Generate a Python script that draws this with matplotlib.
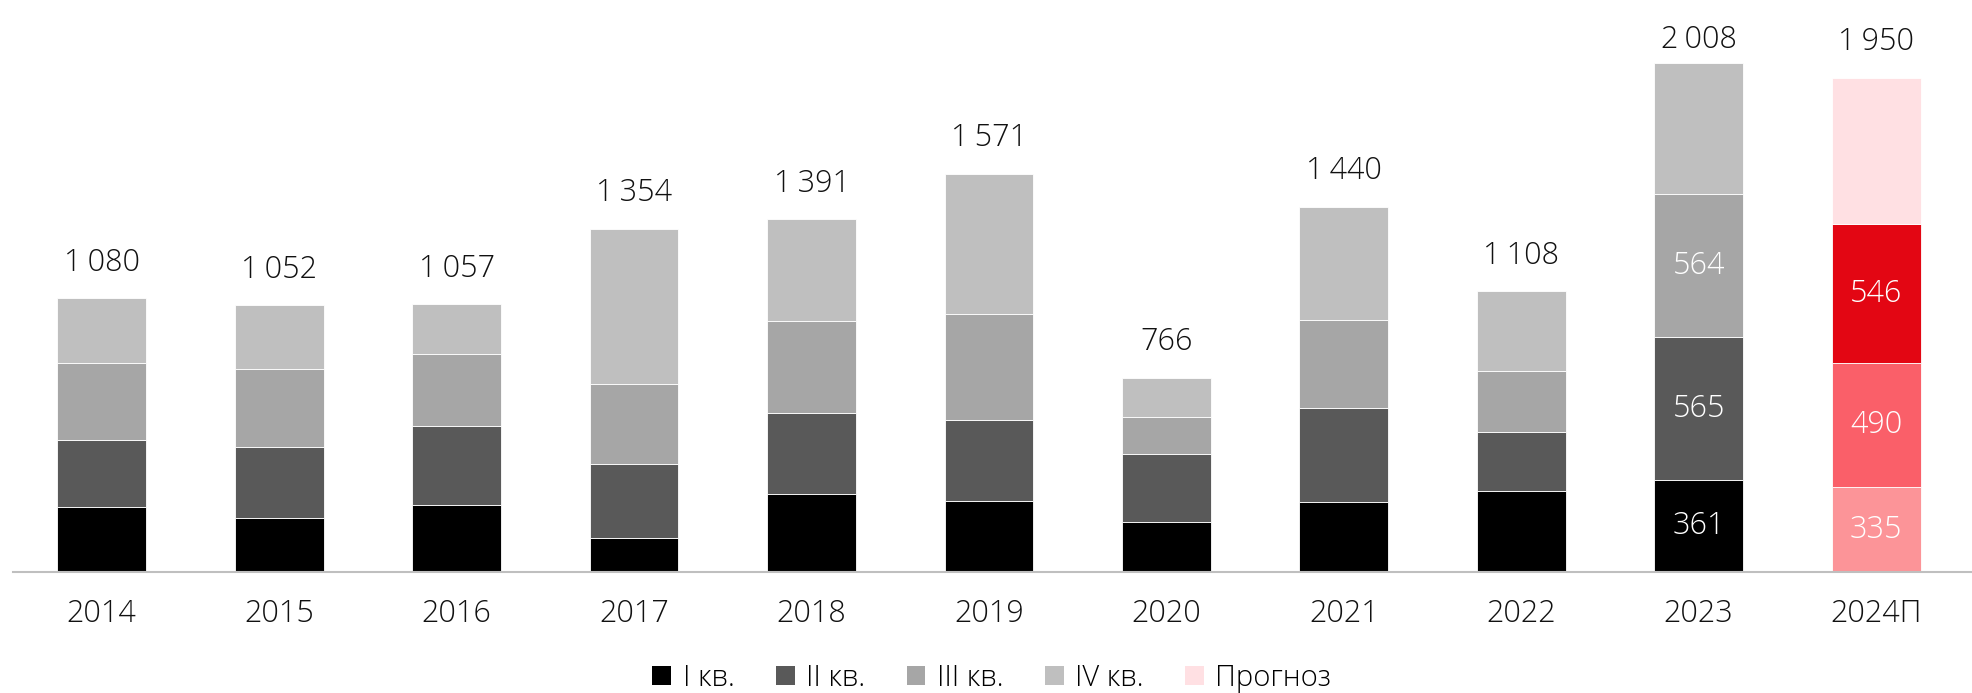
import matplotlib
matplotlib.use("Agg")
import matplotlib.pyplot as plt
from matplotlib.patches import Patch

plt.rcParams['font.family'] = ['Open Sans', 'DejaVu Sans']
plt.rcParams['font.weight'] = 'light'

years = ["2014", "2015", "2016", "2017", "2018", "2019", "2020", "2021", "2022", "2023", "2024П"]
q1 = [256, 214, 265, 133, 308, 281, 199, 277, 320, 361, 335]
q2 = [264, 279, 312, 294, 320, 320, 267, 370, 232, 565, 490]
q3 = [306, 306, 281, 313, 360, 416, 147, 345, 240, 564, 546]
q4 = [254, 253, 199, 614, 403, 554, 153, 448, 316, 518, 579]
totals = [1080, 1052, 1057, 1354, 1391, 1571, 766, 1440, 1108, 2008, 1950]
labelled_inside = [False] * 9 + [True, True]  # segment labels shown for 2023 and 2024П

grey_colors = ["#000000", "#595959", "#A6A6A6", "#BFBFBF"]
red_colors = ["#FC9498", "#FA5F69", "#E30613", "#FFE0E3"]
legend_labels = ["I кв.", "II кв.", "III кв.", "IV кв.", "Прогноз"]

W, H = 1972, 693
fig = plt.figure(figsize=(W / 100, H / 100), dpi=100)
base_px = 572
ax = fig.add_axes([13 / W, (H - base_px) / H, 1 - 13 / W, base_px / H])

x = list(range(len(years)))
series = [q1, q2, q3, q4]
bottoms = [0] * len(years)
for si, vals in enumerate(series):
    cols = [red_colors[si] if yr.endswith("П") else grey_colors[si] for yr in years]
    ax.bar(x, vals, width=0.5, bottom=bottoms, color=cols,
           edgecolor="white", linewidth=0.6)
    for i, (b, v) in enumerate(zip(bottoms, vals)):
        if labelled_inside[i] and si < 3:
            ax.text(i, b + v / 2, str(v), ha="center", va="center",
                    color="white", fontsize=22)
    bottoms = [b + v for b, v in zip(bottoms, vals)]

def fmt(v):
    return f"{v:,}".replace(",", "\u2009")

label_cap = 1960  # labels kept below the top edge of the picture
for i, t in enumerate(totals):
    ax.annotate(fmt(t), (i, min(bottoms[i], label_cap)), xytext=(0, 14),
                textcoords="offset points", ha="center", va="bottom",
                fontsize=22, color="#111111")

ax.set_xlim(-0.5, 10.54)
ax.set_ylim(0, 2256)
ax.set_xticks(x)
ax.set_xticklabels(years, fontsize=22, color="#111111")
ax.tick_params(axis="x", length=0, pad=19)
ax.set_yticks([])
for s in ["top", "right", "left"]:
    ax.spines[s].set_visible(False)
ax.spines["bottom"].set_color("#BFBFBF")
ax.spines["bottom"].set_linewidth(1.5)

handles = [Patch(facecolor=c) for c in grey_colors] + [Patch(facecolor=red_colors[3])]
fig.legend(handles, legend_labels, loc="center", bbox_to_anchor=(0.503, 0.022),
           ncol=5, frameon=False, fontsize=21, handlelength=0.65, handleheight=0.65,
           handletextpad=0.4, columnspacing=1.4)

fig.savefig("out.png", dpi=100)
